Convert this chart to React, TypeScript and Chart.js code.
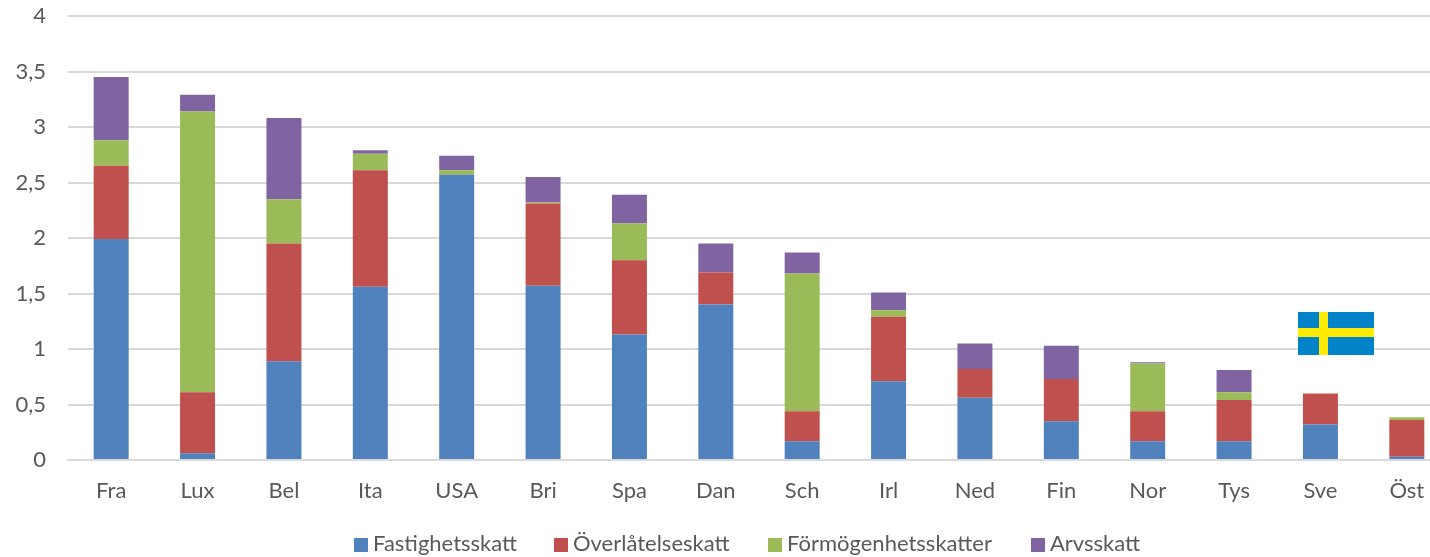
import React, { useEffect, useRef } from "react";
import { Chart, registerables } from "chart.js";

Chart.register(...registerables);

const categories = ["Fra", "Lux", "Bel", "Ita", "USA", "Bri", "Spa", "Dan", "Sch", "Irl", "Ned", "Fin", "Nor", "Tys", "Sve", "Öst"];
const fastighetsskatt = [1.99, 0.06, 0.89, 1.56, 2.57, 1.57, 1.13, 1.4, 0.17, 0.71, 0.56, 0.35, 0.17, 0.17, 0.32, 0.03];
const overlatelseskatt = [0.66, 0.55, 1.06, 1.05, 0, 0.74, 0.67, 0.29, 0.27, 0.58, 0.26, 0.38, 0.27, 0.37, 0.28, 0.33];
const formogenhetsskatter = [0.23, 2.53, 0.4, 0.15, 0.04, 0.01, 0.33, 0, 1.24, 0.06, 0, 0, 0.43, 0.07, 0, 0.025];
const arvsskatt = [0.57, 0.15, 0.73, 0.03, 0.13, 0.23, 0.26, 0.26, 0.19, 0.16, 0.23, 0.3, 0.01, 0.2, 0, 0];

const seriesNames = ["Fastighetsskatt", "Överlåtelseskatt", "Förmögenhetsskatter", "Arvsskatt"];
const seriesColors = ["#4F81BD", "#C0504D", "#9BBB59", "#8064A2"];
const seriesValues = [fastighetsskatt, overlatelseskatt, formogenhetsskatter, arvsskatt];
const legendLefts = [354, 554, 768, 1031];
const FONT = "Lato, 'Open Sans', sans-serif";

export default function App() {
  const ref = useRef<HTMLCanvasElement>(null);
  useEffect(() => {
    const chart = new Chart(ref.current!, {
      type: "bar",
      data: {
        labels: categories,
        datasets: seriesNames.map((label, i) => ({
          label,
          data: seriesValues[i],
          backgroundColor: seriesColors[i],
          borderWidth: 0,
          barPercentage: 1,
          categoryPercentage: 0.405,
        })),
      },
      options: {
        animation: false,
        responsive: false,
        layout: { padding: { top: 16, left: 0, right: 0, bottom: 0 } },
        plugins: { legend: { display: false }, tooltip: { enabled: false } },
        scales: {
          x: {
            stacked: true,
            grid: { display: false, drawTicks: false },
            border: { color: "#D9D9D9", width: 2 },
            ticks: { color: "#595959", font: { family: FONT, size: 22 }, padding: 18, maxRotation: 0, autoSkip: false },
            afterFit: (s: any) => { s.height = 97; s.paddingLeft = 0; s.paddingRight = 0; },
          },
          y: {
            stacked: true,
            min: 0,
            max: 4,
            grid: { color: "#D9D9D9", lineWidth: 2, drawTicks: false },
            border: { display: false },
            ticks: {
              stepSize: 0.5,
              color: "#595959",
              font: { family: FONT, size: 22 },
              padding: 22,
              callback: (v: any) => String(v).replace(".", ","),
            },
            afterFit: (s: any) => { s.width = 68; s.paddingTop = 0; s.paddingBottom = 0; },
          },
        },
      },
    });
    return () => chart.destroy();
  }, []);

  return (
    <div style={{ position: "fixed", left: 0, top: 0, width: 1430, height: 557, overflow: "hidden", background: "#fff" }}>
      <canvas ref={ref} width={1450} height={557} style={{ position: "absolute", left: 0, top: 0, width: 1450, height: 557 }} />
      <svg width={76} height={43} viewBox="0 0 76 43" style={{ position: "absolute", left: 1298, top: 312 }}>
        <rect x={0} y={0} width={76} height={43} fill="#0083C9" />
        <rect x={21} y={0} width={9} height={43} fill="#FFEB00" />
        <rect x={0} y={16} width={76} height={9} fill="#FFEB00" />
      </svg>
      {seriesNames.map((name, i) => (
        <div key={name} style={{ position: "absolute", left: legendLefts[i], top: 529, height: 28, whiteSpace: "nowrap", font: `22px ${FONT}`, lineHeight: "28px", color: "#595959" }}>
          <span style={{ position: "absolute", left: 0, top: 9, width: 14, height: 14, background: seriesColors[i] }} />
          <span style={{ position: "absolute", left: 19, top: 0 }}>{name}</span>
        </div>
      ))}
    </div>
  );
}
